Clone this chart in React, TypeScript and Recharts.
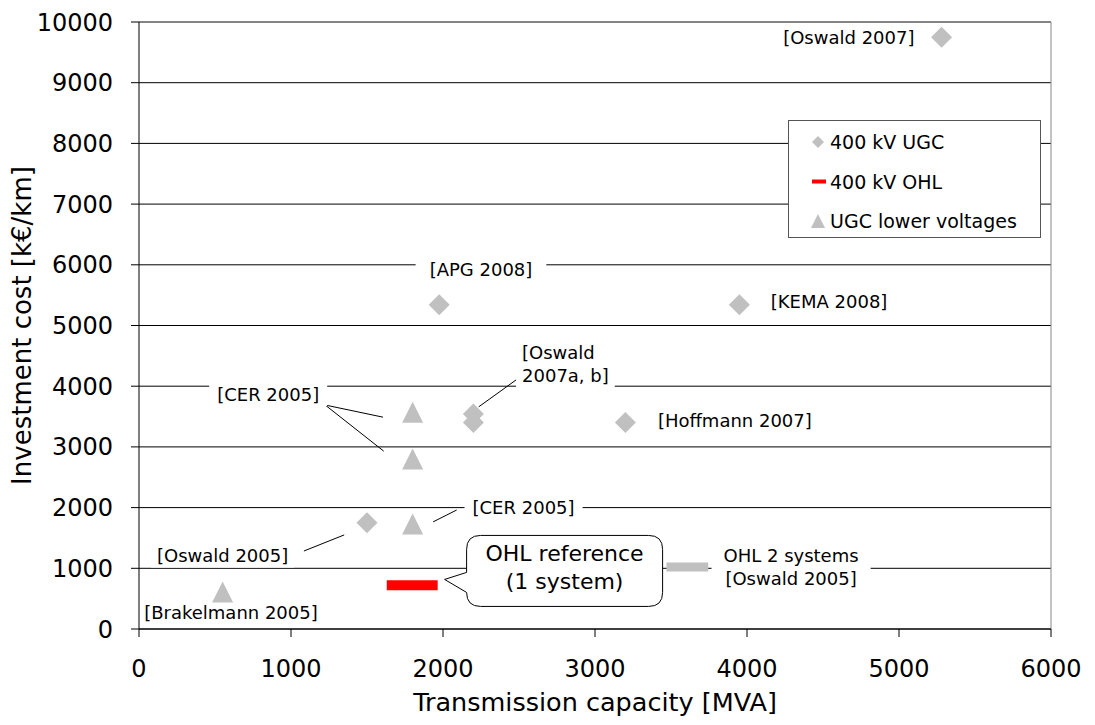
import { ScatterChart, Scatter, XAxis, YAxis, CartesianGrid, ReferenceLine, ReferenceDot, Legend } from 'recharts';

// axis ticks
const xTicks = [0, 1000, 2000, 3000, 4000, 5000, 6000];
const yTicks = [0, 1000, 2000, 3000, 4000, 5000, 6000, 7000, 8000, 9000, 10000];

// series (capacity MVA, cost k€/km)
const ugc400 = [
  { x: 5280, y: 9750 },
  { x: 1975, y: 5340 },
  { x: 3950, y: 5340 },
  { x: 2200, y: 3540 },
  { x: 2200, y: 3400 },
  { x: 3200, y: 3400 },
  { x: 1500, y: 1750 },
];
const ugcLower = [
  { x: 1800, y: 3570 },
  { x: 1800, y: 2800 },
  { x: 1800, y: 1730 },
  { x: 550, y: 610 },
];
const ohl400 = [
  { x: 1630, y: 720 },
  { x: 1965, y: 720 },
];
const ohlTwoSystems = [
  { x: 3470, y: 1020 },
  { x: 3745, y: 1020 },
];

const seriesNames = ['400 kV UGC', '400 kV OHL', 'UGC lower voltages'];

// source notes
const notes = [
  { lines: ['[Oswald 2007]'], x: 4670, y: 9750, anchor: 'middle', pad: 6 },
  { lines: ['[APG 2008]'], x: 2250, y: 5930, anchor: 'middle', pad: 14 },
  { lines: ['[KEMA 2008]'], x: 4540, y: 5400, anchor: 'middle', pad: 6 },
  { lines: ['[Oswald', '2007a, b]'], x: 2520, y: 4360, anchor: 'start', pad: 6 },
  { lines: ['[CER 2005]'], x: 850, y: 3870, anchor: 'middle', pad: 8 },
  { lines: ['[Hoffmann 2007]'], x: 3920, y: 3440, anchor: 'middle', pad: 6 },
  { lines: ['[CER 2005]'], x: 2530, y: 2000, anchor: 'middle', pad: 8 },
  { lines: ['[Oswald 2005]'], x: 550, y: 1210, anchor: 'middle', pad: 6 },
  { lines: ['[Brakelmann 2005]'], x: 605, y: 270, anchor: 'middle', pad: 1 },
  { lines: ['OHL 2 systems', '[Oswald 2005]'], x: 4290, y: 1015, anchor: 'middle', pad: 12 },
];

const leaders = [
  [{ x: 2490, y: 4120 }, { x: 2235, y: 3660 }],
  [{ x: 1225, y: 3690 }, { x: 1605, y: 3490 }],
  [{ x: 1225, y: 3690 }, { x: 1610, y: 2930 }],
  [{ x: 2090, y: 1960 }, { x: 1935, y: 1765 }],
  [{ x: 1085, y: 1285 }, { x: 1350, y: 1550 }],
];

const callout = { lines: ['OHL reference', '(1 system)'], x: 2800, y: 965 };

const GREY = '#c0c0c0';
const FONT = '"DejaVu Sans", Verdana, sans-serif';

let ctx: CanvasRenderingContext2D | null = null;
const textWidth = (s: string, size: number) => {
  if (!ctx) ctx = document.createElement('canvas').getContext('2d');
  if (!ctx) return s.length * size * 0.6;
  ctx.font = `${size}px "DejaVu Sans"`;
  return ctx.measureText(s).width;
};

const Diamond = (props: any) => {
  const { cx, cy } = props;
  const h = 10.5;
  return <polygon points={`${cx},${cy - h} ${cx + h},${cy} ${cx},${cy + h} ${cx - h},${cy}`} fill={GREY} />;
};

const Triangle = (props: any) => {
  const { cx, cy } = props;
  return <polygon points={`${cx},${cy - 10.5} ${cx + 10.5},${cy + 10.5} ${cx - 10.5},${cy + 10.5}`} fill={GREY} />;
};

const Nothing = () => <g />;

const noteShape = (note: typeof notes[number]) => (props: any) => {
  const { cx, cy } = props;
  const size = 18;
  const lh = 23;
  const n = note.lines.length;
  const w = Math.max(...note.lines.map((l) => textWidth(l, size)));
  const left = note.anchor === 'start' ? cx : cx - w / 2;
  const top = cy - ((n - 1) / 2) * lh - 12;
  const height = (n - 1) * lh + 24;
  return (
    <g>
      <rect x={left - note.pad} y={top} width={w + note.pad * 2} height={height} fill="#fff" />
      <text fontSize={size} fill="#000" textAnchor={note.anchor} style={{ fontFamily: FONT }}>
        {note.lines.map((l, i) => (
          <tspan key={i} x={cx} y={cy + (i - (n - 1) / 2) * lh} dominantBaseline="central">
            {l}
          </tspan>
        ))}
      </text>
    </g>
  );
};

const Callout = (props: any) => {
  const { cx, cy } = props;
  const L = cx - 98;
  const R = cx + 98;
  const T = cy - 35;
  const B = cy + 36;
  const r = 14;
  const d = `M ${L + r} ${T} H ${R - r} Q ${R} ${T} ${R} ${T + r} V ${B - r} Q ${R} ${B} ${R - r} ${B} H ${L + r} Q ${L} ${B} ${L} ${B - r} L ${cx - 120} ${cy + 9} L ${L} ${cy + 2} V ${T + r} Q ${L} ${T} ${L + r} ${T} Z`;
  return (
    <g>
      <path d={d} fill="#fff" stroke="#000" strokeWidth={1} />
      <text fontSize={22} fill="#000" textAnchor="middle" style={{ fontFamily: FONT }}>
        <tspan x={cx} y={cy - 9}>{callout.lines[0]}</tspan>
        <tspan x={cx} y={cy + 19}>{callout.lines[1]}</tspan>
      </text>
    </g>
  );
};

const LegendBox = (props: any) => {
  const payload: any[] = (props.payload || []).filter((p: any) => p.type !== 'none');
  const items = seriesNames.filter((n) => payload.some((p) => p.value === n));
  return (
    <svg width={254} height={119} style={{ display: 'block' }}>
      <rect x={0.5} y={0.5} width={252} height={117} fill="#fff" stroke="#555" />
      {items.map((name, i) => {
        const y = 22 + i * 39.5;
        let icon;
        if (name === '400 kV UGC') {
          icon = <polygon points={`30,${y - 6} 36,${y} 30,${y + 6} 24,${y}`} fill={GREY} />;
        } else if (name === '400 kV OHL') {
          icon = <rect x={24} y={y - 2} width={14} height={4} fill="#ff0000" />;
        } else {
          icon = <polygon points={`30,${y - 7} 37,${y + 7} 23,${y + 7}`} fill={GREY} />;
        }
        return (
          <g key={name}>
            {icon}
            <text x={42} y={y} dominantBaseline="central" fontSize={19} fill="#000" style={{ fontFamily: FONT }}>
              {name}
            </text>
          </g>
        );
      })}
    </svg>
  );
};

const App = () => {
  return (
    <div style={{ position: 'absolute', left: 0, top: 0, fontFamily: FONT, background: '#fff' }}>
      <ScatterChart width={1095} height={725} margin={{ top: 22, right: 44, bottom: 0, left: 0 }}>
        <CartesianGrid vertical={false} stroke="#000" />
        <XAxis
          type="number"
          dataKey="x"
          domain={[0, 6000]}
          ticks={xTicks}
          interval={0}
          height={96}
          tickSize={8}
          tickMargin={23}
          stroke="#000"
          tick={{ fill: '#000', fontSize: 24 }}
          label={{
            content: (p: any) => (
              <text x={p.viewBox.x + p.viewBox.width / 2} y={p.viewBox.y + 82} textAnchor="middle" fontSize={25.5} fill="#000">
                Transmission capacity [MVA]
              </text>
            ),
          }}
        />
        <YAxis
          type="number"
          dataKey="y"
          domain={[0, 10000]}
          ticks={yTicks}
          interval={0}
          width={139}
          tickSize={8}
          tickMargin={18}
          stroke="#000"
          tick={{ fill: '#000', fontSize: 24 }}
          label={{
            content: (p: any) => {
              const x = p.viewBox.x + 22;
              const y = p.viewBox.y + p.viewBox.height / 2;
              return (
                <text x={x} y={y} transform={`rotate(-90 ${x} ${y})`} textAnchor="middle" dominantBaseline="central" fontSize={26} fill="#000">
                  Investment cost [k€/km]
                </text>
              );
            },
          }}
        />
        <ReferenceLine y={10000} stroke="#888" />
        <ReferenceLine x={6000} stroke="#888" />
        {leaders.map((seg, i) => (
          <ReferenceLine key={`l${i}`} segment={seg} stroke="#000" strokeWidth={1} />
        ))}
        {notes.map((n, i) => (
          <ReferenceDot key={`n${i}`} x={n.x} y={n.y} r={0} shape={noteShape(n)} />
        ))}
        <ReferenceDot x={callout.x} y={callout.y} r={0} shape={Callout} />
        <Scatter name="400 kV UGC" data={ugc400} fill={GREY} shape={Diamond} isAnimationActive={false} />
        <Scatter
          name="400 kV OHL"
          data={ohl400}
          fill="#ff0000"
          line={{ stroke: '#ff0000', strokeWidth: 10 }}
          shape={Nothing}
          isAnimationActive={false}
        />
        <Scatter name="UGC lower voltages" data={ugcLower} fill={GREY} shape={Triangle} isAnimationActive={false} />
        <Scatter
          name="OHL 2 systems"
          data={ohlTwoSystems}
          fill={GREY}
          legendType="none"
          line={{ stroke: GREY, strokeWidth: 9 }}
          shape={Nothing}
          isAnimationActive={false}
        />
        <Legend
          layout="vertical"
          align="center"
          verticalAlign="middle"
          content={LegendBox}
          wrapperStyle={{ left: 788, top: 120, width: 254, height: 119 }}
        />
      </ScatterChart>
    </div>
  );
};

export default App;
